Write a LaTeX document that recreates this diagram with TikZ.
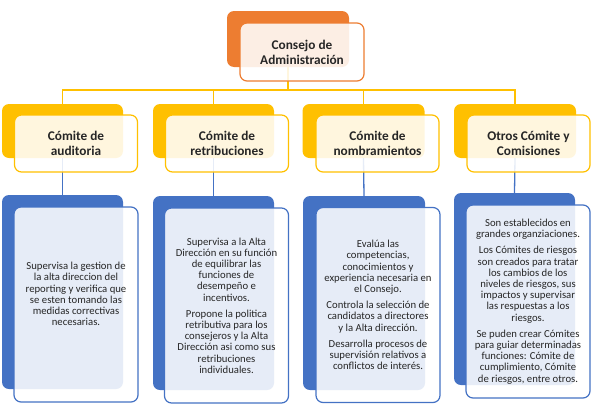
\documentclass[tikz,border=0pt]{standalone}
\usepackage{fontspec}
\setmainfont{Carlito}
\usepackage{tikz}

\definecolor{boardorange}{HTML}{ED7D31}
\definecolor{comyellow}{HTML}{FFC000}
\definecolor{taskblue}{HTML}{4472C4}
\definecolor{textgray}{HTML}{262626}

\begin{document}
\begin{tikzpicture}[
    x=1pt, y=-1pt,
    every node/.style={font=\fontsize{10.7}{11.2}\selectfont, text=textgray},
    backbox/.style={rectangle, rounded corners=7pt, inner sep=0pt},
    frontbox/.style={draw, rectangle, rounded corners=7pt, fill=white, fill opacity=0.87, text opacity=1, line width=1.2pt, inner sep=0pt, align=center},
    headbox/.style={frontbox, minimum width=123pt, minimum height=57pt, font=\bfseries\fontsize{13.3}{15}\selectfont},
    bodybox/.style={frontbox, draw=taskblue, minimum width=124pt, minimum height=195pt},
    bus/.style={draw=comyellow, line width=1.3pt},
    drop/.style={draw=taskblue, line width=1.3pt}
]
    \useasboundingbox (0,0) rectangle (592,410);

    % --------------------------------------------------------
    % 1. BACK BOXES
    % --------------------------------------------------------

    % Consejo de Administracion
    \node (board_back) [backbox, fill=boardorange, minimum width=122pt, minimum height=56pt] at (288, 39) {};

    % Comites
    \node (aud_back) [backbox, fill=comyellow, minimum width=121pt, minimum height=54pt] at (62.5, 131) {};
    \node (ret_back) [backbox, fill=comyellow, minimum width=121pt, minimum height=54pt] at (213.5, 131) {};
    \node (nom_back) [backbox, fill=comyellow, minimum width=122pt, minimum height=54pt] at (363.5, 131) {};
    \node (otr_back) [backbox, fill=comyellow, minimum width=122pt, minimum height=54pt] at (515, 131) {};

    % Funciones
    \node (aud_task_back) [backbox, fill=taskblue, minimum width=121pt, minimum height=194pt] at (62.5, 292) {};
    \node (ret_task_back) [backbox, fill=taskblue, minimum width=121pt, minimum height=194pt] at (213.5, 293) {};
    \node (nom_task_back) [backbox, fill=taskblue, minimum width=122pt, minimum height=194pt] at (364, 293) {};
    \node (otr_task_back) [backbox, fill=taskblue, minimum width=121pt, minimum height=192pt] at (514.5, 289) {};

    % --------------------------------------------------------
    % 2. CONNECTORS
    % --------------------------------------------------------

    \coordinate (bus) at (288, 90);
    \foreach \c in {aud, ret, nom, otr} {
        \draw [bus] (board_back.south) -- (bus) -| (\c_back.north);
        \draw [drop] (\c_back.south) -- (\c_task_back.north);
    }

    % --------------------------------------------------------
    % 3. FRONT BOXES
    % --------------------------------------------------------

    \node (board) [headbox, draw=boardorange, minimum width=124pt, minimum height=58pt] at (302, 52) {Consejo de\\Administración};

    \node (aud) [headbox, draw=comyellow] at (76, 143.5) {Cómite de\\auditoria};
    \node (ret) [headbox, draw=comyellow] at (227, 143.5) {Cómite de\\retribuciones};
    \node (nom) [headbox, draw=comyellow] at (377.5, 143.5) {Cómite de\\nombramientos};
    \node (otr) [headbox, draw=comyellow] at (528.5, 143.5) {Otros Cómite y\\Comisiones};

    \node (aud_task) [bodybox] at (76, 304.5) {
        Supervisa la gestion de\\
        la alta direccion del\\
        reporting y verifica que\\
        se esten tomando las\\
        medidas correctivas\\
        necesarias.\\[10pt]
    };

    \node (ret_task) [bodybox] at (226.5, 305.5) {
        Supervisa a la Alta\\
        Dirección en su función\\
        de equilibrar las\\
        funciones de\\
        desempeño e\\
        incentivos.\\[5pt]
        Propone la politica\\
        retributiva para los\\
        consejeros y la Alta\\
        Dirección asi como sus\\
        retribuciones\\
        individuales.
    };

    \node (nom_task) [bodybox] at (378, 305) {
        Evalúa las\\
        competencias,\\
        conocimientos y\\
        experiencia necesaria en\\
        el Consejo.\\[5pt]
        Controla la selección de\\
        candidatos a directores\\
        y la Alta dirección.\\[5pt]
        Desarrolla procesos de\\
        supervisión relativos a\\
        conflictos de interés.
    };

    \node (otr_task) [bodybox, minimum height=193pt] at (528, 301.5) {
        Son establecidos en\\
        grandes organziaciones.\\[5pt]
        Los Cómites de riesgos\\
        son creados para tratar\\
        los cambios de los\\
        niveles de riesgos, sus\\
        impactos y supervisar\\
        las respuestas a los\\
        riesgos.\\[5pt]
        Se puden crear Cómites\\
        para guiar determinadas\\
        funciones: Cómite de\\
        cumplimiento, Cómite\\
        de riesgos, entre otros.
    };

\end{tikzpicture}
\end{document}
